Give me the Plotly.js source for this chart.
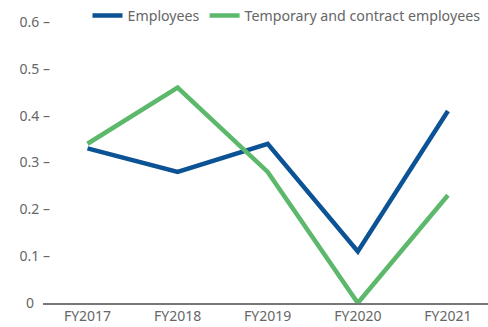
<!DOCTYPE html>
<html>
<head>
<meta charset="utf-8">
<script src="https://cdn.plot.ly/plotly-3.0.1.min.js"></script>
<style>
  html, body { margin: 0; padding: 0; background: #fff; }
  #chart { width: 488px; height: 327px; }
</style>
</head>
<body>
<div id="chart"></div>
<script>
// Fiscal years on the x axis
const years = ['FY2017', 'FY2018', 'FY2019', 'FY2020', 'FY2021'];

// Rates per series
const employees = [0.33, 0.28, 0.34, 0.11, 0.41];
const contractEmployees = [0.34, 0.46, 0.28, 0.0, 0.23];

// Y axis ticks
const yTickVals = [0, 0.1, 0.2, 0.3, 0.4, 0.5, 0.6];
const yTickText = ['0\u2007\u2007', '0.1 \u2013', '0.2 \u2013', '0.3 \u2013', '0.4 \u2013', '0.5 \u2013', '0.6 \u2013'];

const FONT = '"Noto Sans", "Source Sans Pro", sans-serif';
const GREY = '#666666';

const traces = [
  {
    x: years, y: employees, name: 'Employees',
    type: 'scatter', mode: 'lines',
    line: { color: '#0b5394', width: 4.5 }
  },
  {
    x: years, y: contractEmployees, name: 'Temporary and contract employees',
    type: 'scatter', mode: 'lines',
    line: { color: '#5cb86b', width: 4.5 }
  }
];

const layout = {
  width: 488, height: 327,
  margin: { l: 43, r: 0, t: 10, b: 24, autoexpand: false },
  paper_bgcolor: '#fff', plot_bgcolor: '#fff',
  font: { family: FONT, size: 14, color: GREY },
  showlegend: true,
  legend: {
    orientation: 'h', x: 0.1, xanchor: 'left', y: 0.98, yanchor: 'middle',
    font: { family: FONT, size: 14.2, color: GREY },
    itemwidth: 30, tracegroupgap: 0, bgcolor: 'rgba(0,0,0,0)'
  },
  xaxis: {
    type: 'category',
    range: [-0.494, 4.445],
    showgrid: false, zeroline: false,
    showline: true, linecolor: '#777', linewidth: 1.5,
    ticks: '', tickfont: { family: FONT, size: 14, color: GREY }
  },
  yaxis: {
    range: [0, 0.6256],
    showgrid: false, zeroline: false, showline: false,
    tickvals: yTickVals, ticktext: yTickText,
    ticks: '', ticklabelstandoff: -8,
    tickfont: { family: FONT, size: 14, color: GREY }
  }
};

Plotly.newPlot('chart', traces, layout, { displayModeBar: false, staticPlot: true });
</script>
</body>
</html>
